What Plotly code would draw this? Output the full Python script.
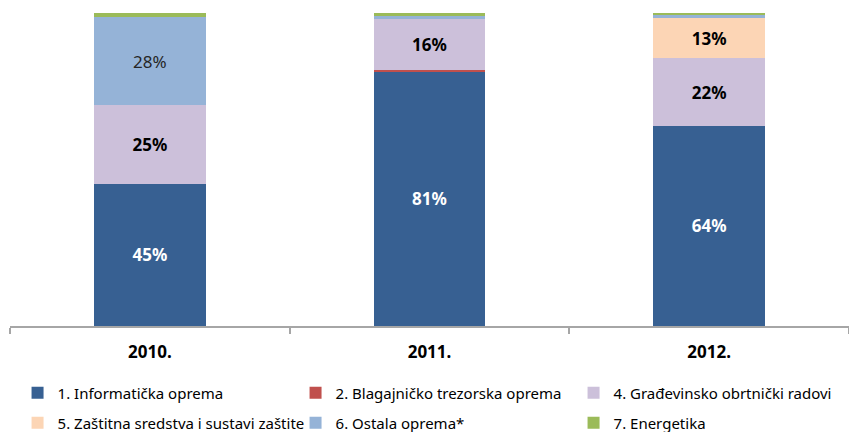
import plotly.graph_objects as go

years = ["2010.", "2011.", "2012."]
series_names = [
    "1. Informatička oprema",
    "2. Blagajničko trezorska oprema",
    "4. Građevinsko obrtnički radovi",
    "5. Zaštitna sredstva i sustavi zaštite",
    "6. Ostala oprema*",
    "7. Energetika",
]
informaticka = [45.4, 81.3, 63.9]
blagajnicko = [0.0, 0.4, 0.0]
gradevinsko = [25.2, 16.3, 21.7]
zastitna = [0.0, 0.0, 12.8]
ostala = [28.1, 1.2, 1.0]
energetika = [1.3, 0.8, 0.6]

series_values = [informaticka, blagajnicko, gradevinsko, zastitna, ostala, energetika]
colors = ["#376092", "#C0504D", "#CCC0DA", "#FCD5B5", "#95B3D7", "#9BBB59"]
text_colors = ["#FFFFFF", "#000000", "#000000", "#000000", "#262626", "#000000"]
bold = [True, True, True, True, False, True]
legend_rows = ["legend", "legend", "legend", "legend2", "legend2", "legend2"]

FONT = "Noto Sans, Open Sans, sans-serif"

fig = go.Figure()
for name, vals, col, tcol, b, lg in zip(series_names, series_values, colors, text_colors, bold, legend_rows):
    texts = []
    for v in vals:
        if v >= 5:
            t = f"{v:.0f}%"
            texts.append(f"<b>{t}</b>" if b else t)
        else:
            texts.append("")
    fig.add_trace(go.Bar(
        x=years, y=vals, name=name, legend=lg,
        marker=dict(color=col, line=dict(width=0)),
        text=texts, textposition="inside", insidetextanchor="middle",
        textfont=dict(color=tcol, size=17, family=FONT),
        textangle=0,
        hoverinfo="name+y",
    ))

legend_common = dict(
    orientation="h", xanchor="left", yanchor="middle",
    entrywidth=233, entrywidthmode="pixels",
    font=dict(size=15, color="#000000", family=FONT),
    traceorder="normal", itemwidth=30, bgcolor="rgba(0,0,0,0)",
)

fig.update_layout(
    barmode="stack",
    bargap=0.6,
    width=849, height=432,
    margin=dict(l=10, r=0, t=13, b=106, autoexpand=False),
    plot_bgcolor="white", paper_bgcolor="white",
    font=dict(family=FONT, size=14, color="#000000"),
    showlegend=True,
    legend=dict(x=0.009, y=-0.214, **legend_common),
    legend2=dict(x=0.009, y=-0.310, **legend_common),
    xaxis=dict(
        showline=True, linecolor="#A6A6A6", linewidth=1.5,
        ticks="outside", tickson="boundaries", ticklen=6, tickcolor="#A6A6A6", tickwidth=1.5,
        tickfont=dict(size=17, color="#000000", family=FONT),
        tickprefix="<b>", ticksuffix="</b>",
        ticklabelstandoff=10,
        showgrid=False, zeroline=False,
    ),
    yaxis=dict(range=[0, 100], visible=False, showgrid=False, zeroline=False),
)

fig.write_html("out.html", config={"displayModeBar": False},
               post_script="document.body.style.margin='0';")
